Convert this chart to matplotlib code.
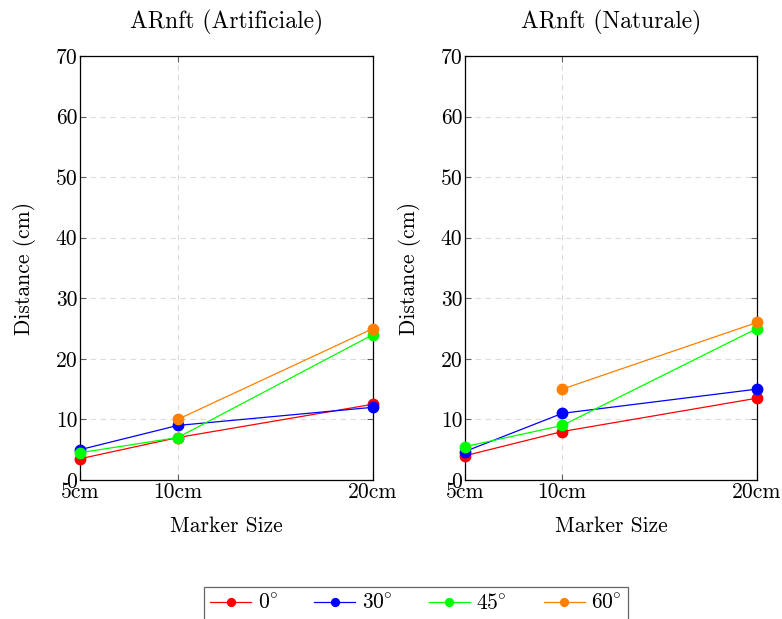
import matplotlib
matplotlib.use("Agg")
import matplotlib.pyplot as plt

plt.rcParams['font.family'] = ['cmr10', 'DejaVu Serif']
plt.rcParams['mathtext.fontset'] = 'cm'
plt.rcParams['axes.unicode_minus'] = False

# marker sizes (cm) on the x axis
sizes = [5, 10, 20]
size_labels = ['5cm', '10cm', '20cm']
y_ticks = [0, 10, 20, 30, 40, 50, 60, 70]

# ARnft (Artificiale)
art_0 = [3.5, 7, 12.5]
art_30 = [5, 9, 12]
art_45 = [4.5, 7, 24]
art_60 = [10, 25]          # only at 10cm and 20cm

# ARnft (Naturale)
nat_0 = [4, 8, 13.5]
nat_30 = [4.7, 11, 15]
nat_45 = [5.5, 9, 25]
nat_60 = [15, 26]

angle_labels = [r'$0\!^\circ$', r'$30\!^\circ$', r'$45\!^\circ$', r'$60\!^\circ$']
colors = ['#ff0000', '#0000ff', '#00ff00', '#ff8000']

fig = plt.figure(figsize=(7.82, 6.19), dpi=100)
ax1 = fig.add_axes([0.1023, 0.2246, 0.3747, 0.685])
ax2 = fig.add_axes([0.5946, 0.2246, 0.3734, 0.685])

panels = [
    (ax1, 'ARnft (Artificiale)', [art_0, art_30, art_45, art_60]),
    (ax2, 'ARnft (Naturale)', [nat_0, nat_30, nat_45, nat_60]),
]

for ax, title, series in panels:
    for vals, col, lab in zip(series, colors, angle_labels):
        xs = sizes[len(sizes) - len(vals):]
        ax.plot(xs, vals, color=col, lw=0.9, marker='o', ms=7.5,
                label=lab, zorder=3, clip_on=False)
    ax.set_xlim(5, 20)
    ax.set_ylim(0, 70)
    ax.set_xticks(sizes)
    ax.set_xticklabels(size_labels)
    ax.set_yticks(y_ticks)
    ax.set_yticklabels([str(v) for v in y_ticks])
    ax.grid(True, color='#dcdcdc', linestyle=(0, (5, 4)), lw=0.8)
    ax.tick_params(direction='in', length=4, color='#606060',
                   top=True, right=True, labelsize=15.5, pad=2)
    for s in ax.spines.values():
        s.set_linewidth(0.9)
    ax.set_title(title, fontsize=17, pad=20)
    ax.set_xlabel('Marker Size', fontsize=15.5, labelpad=10)
    ax.set_ylabel('Distance (cm)', fontsize=15.5, labelpad=14)

handles, labels = ax1.get_legend_handles_labels()
leg = fig.legend(handles, labels, ncol=4, loc='upper center',
                 bbox_to_anchor=(0.532, 0.052), borderaxespad=0,
                 fontsize=15.5, markerscale=0.75,
                 frameon=True, fancybox=False, edgecolor='#404040',
                 handlelength=1.9, handletextpad=0.3,
                 columnspacing=1.7, borderpad=0.3)
leg.get_frame().set_linewidth(0.9)

fig.savefig('out.png', dpi=100)
